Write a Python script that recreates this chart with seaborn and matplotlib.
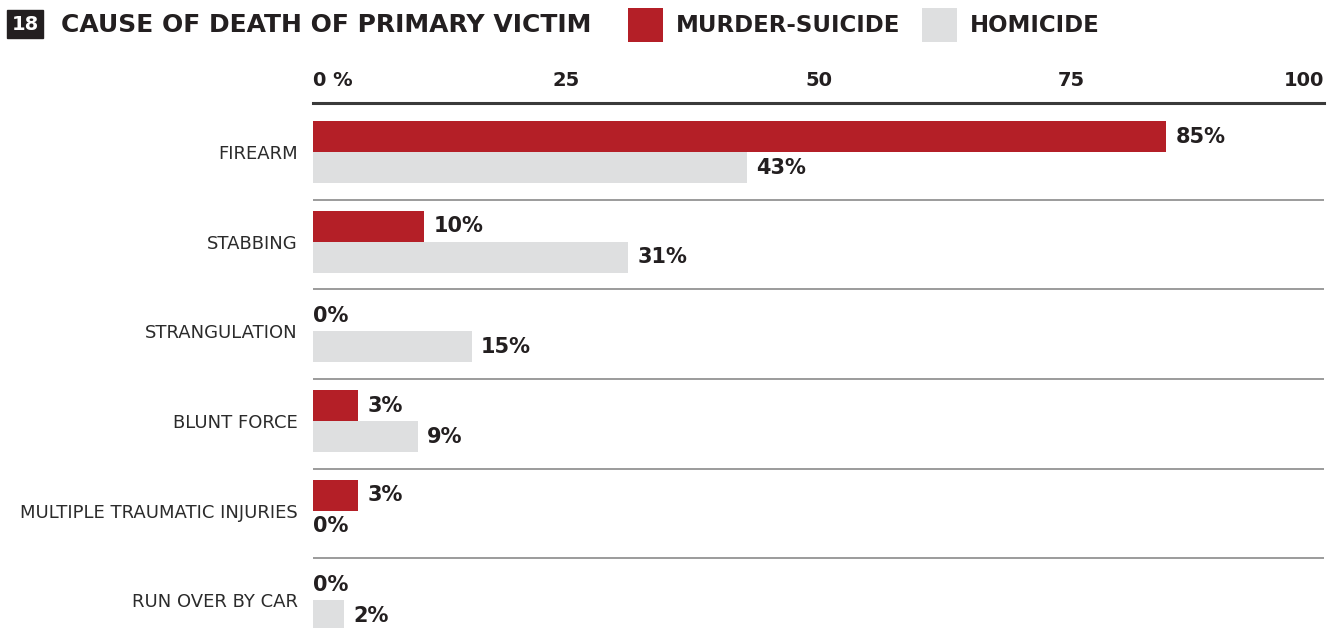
import pandas as pd
import matplotlib.pyplot as plt
import seaborn as sns
from matplotlib.patches import Rectangle

# Chart data
causes = ["FIREARM", "STABBING", "STRANGULATION", "BLUNT FORCE",
          "MULTIPLE TRAUMATIC INJURIES", "RUN OVER BY CAR"]
murder_suicide = [84.4, 11.0, 0.0, 4.5, 4.5, 0.0]
homicide = [42.9, 31.2, 15.7, 10.4, 0.0, 3.1]
murder_suicide_labels = ["85%", "10%", "0%", "3%", "3%", "0%"]
homicide_labels = ["43%", "31%", "15%", "9%", "0%", "2%"]
series_names = ["MURDER-SUICIDE", "HOMICIDE"]
x_ticks = [0, 25, 50, 75, 100]
x_tick_labels = ["0 %", "25", "50", "75", "100"]

RED = "#B41F27"
GRAY = "#DEDFE0"
INK = "#231F20"

df = pd.DataFrame({
    "cause": causes * 2,
    "type": [series_names[0]] * len(causes) + [series_names[1]] * len(causes),
    "pct": murder_suicide + homicide,
})

sns.set_theme(style="white")
plt.rcParams["font.family"] = ["DejaVu Sans"]

fig = plt.figure(figsize=(13.3, 6.28), dpi=100)
ax = fig.add_axes([313 / 1330, 0, 1011 / 1330, 525 / 628])

sns.barplot(data=df, y="cause", x="pct", hue="type", order=causes,
            hue_order=series_names, palette=[RED, GRAY], saturation=1,
            width=0.69, orient="h", legend=False, linewidth=0,
            edgecolor="none", ax=ax)

ax.set_xlim(0, 100)
ax.set_ylim(5.31, -0.55)
ax.set_xlabel("")
ax.set_ylabel("")

# top axis
ax.xaxis.tick_top()
ax.set_xticks(x_ticks)
ax.set_xticklabels(x_tick_labels, fontsize=14, fontweight="bold", color=INK)
tl = ax.get_xticklabels()
tl[0].set_horizontalalignment("left")
tl[-1].set_horizontalalignment("right")
ax.tick_params(axis="x", length=0, pad=9)
ax.tick_params(axis="y", length=0, pad=11)
for lab in ax.get_yticklabels():
    lab.set_fontsize(13)
    lab.set_color("#2b2b2b")

for side in ["left", "right", "bottom"]:
    ax.spines[side].set_visible(False)
ax.spines["top"].set_color("#3a3a3a")
ax.spines["top"].set_linewidth(2.2)

# separators between groups
for i in range(len(causes) - 1):
    ax.axhline(i + 0.53, color="#8a8a8a", lw=1.2, zorder=0)

# value labels
for container, labels in zip(ax.containers, [murder_suicide_labels, homicide_labels]):
    for bar, text in zip(container, labels):
        w = bar.get_width()
        x = w + 0.9 if w > 0 else 0
        ax.text(x, bar.get_y() + bar.get_height() / 2, text, ha="left",
                va="center", fontsize=15, fontweight="bold", color=INK)

# title and legend
fig.text(25 / 1330, 1 - 24 / 628, "18", ha="center", va="center", fontsize=14,
         fontweight="bold", color="white",
         bbox=dict(boxstyle="square,pad=0.25", fc=INK, ec=INK))
fig.text(61 / 1330, 1 - 25 / 628, "CAUSE OF DEATH OF PRIMARY VICTIM", ha="left",
         va="center", fontsize=18, fontweight="bold", color=INK)
for x0, color, name in [(628, RED, series_names[0]), (922, GRAY, series_names[1])]:
    fig.patches.append(Rectangle((x0 / 1330, 1 - 42 / 628), 35 / 1330, 34 / 628,
                                 transform=fig.transFigure, fc=color, ec="none"))
    fig.text((x0 + 48) / 1330, 1 - 25 / 628, name, ha="left", va="center",
             fontsize=16.5, fontweight="bold", color=INK)

fig.savefig("out.png", dpi=100, facecolor="white")
